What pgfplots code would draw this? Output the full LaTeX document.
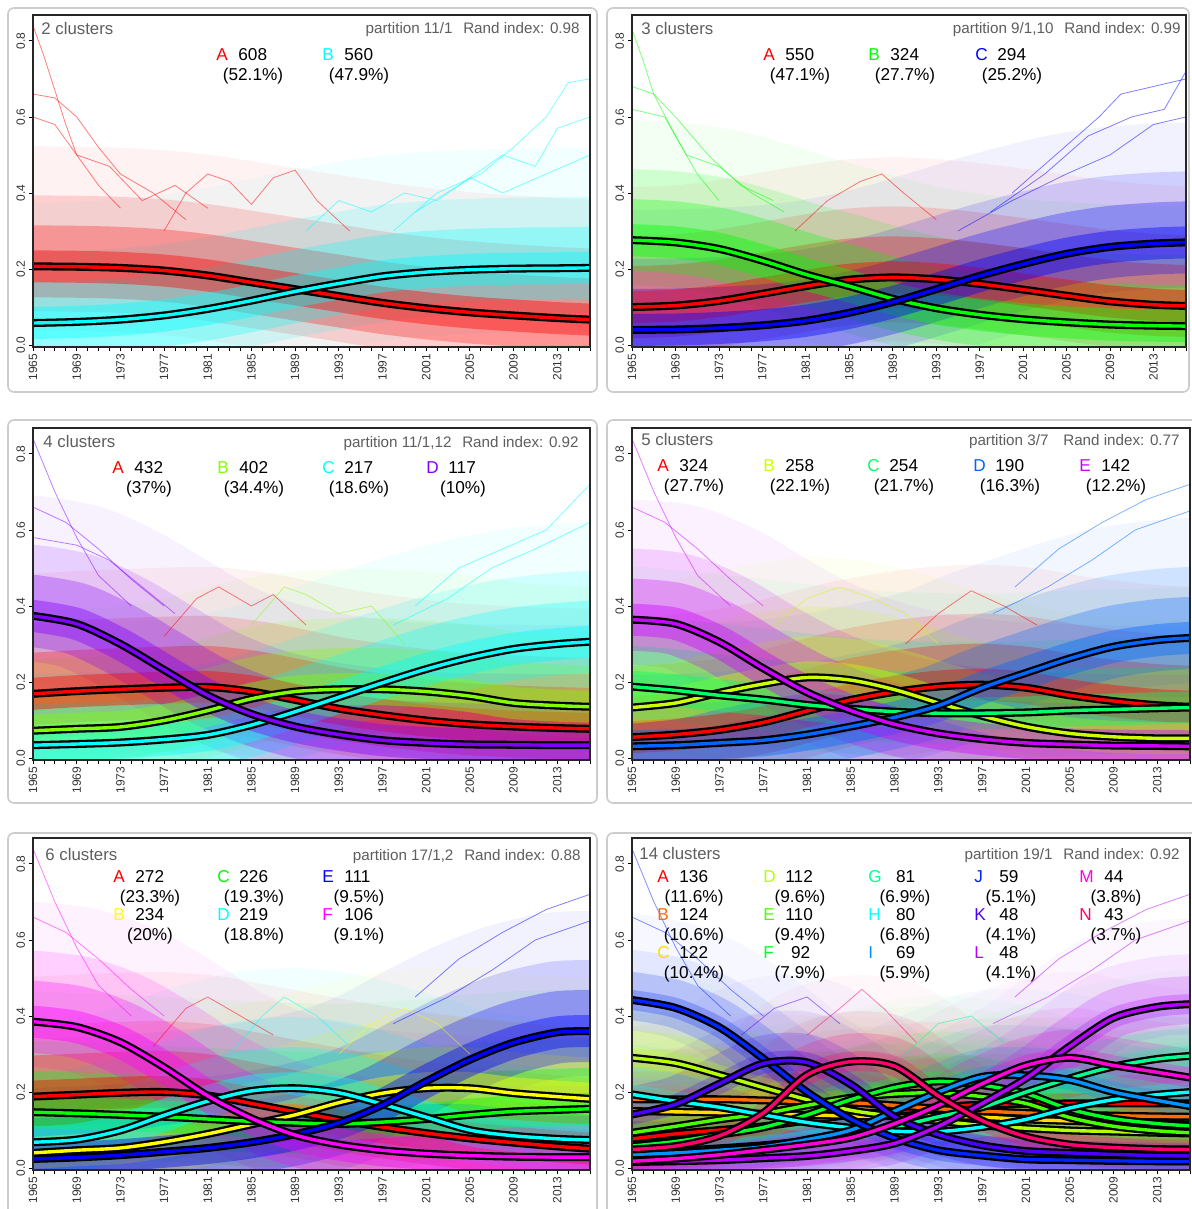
\documentclass[border=0pt]{standalone}
\usepackage{pgfplots}
\pgfplotsset{compat=1.18}
\usepackage{pgfplotstable}
\usepackage{fontspec}
\setmainfont{Liberation Sans}

% rainbow colours
\definecolor{cR}{HTML}{FF0000}
\definecolor{cC}{HTML}{00FFFF}
\definecolor{cG}{HTML}{00FF00}
\definecolor{cBl}{HTML}{0000FF}
\definecolor{cYG}{HTML}{80FF00}
\definecolor{cPu}{HTML}{8000FF}
\definecolor{fB}{HTML}{CCFF00}
\definecolor{fC}{HTML}{00FF66}
\definecolor{fD}{HTML}{0066FF}
\definecolor{fE}{HTML}{CC00FF}
\definecolor{cY}{HTML}{FFFF00}
\definecolor{cM}{HTML}{FF00FF}
\definecolor{kA}{HTML}{FF0000}
\definecolor{kB}{HTML}{FF6D00}
\definecolor{kC}{HTML}{FFDB00}
\definecolor{kD}{HTML}{B6FF00}
\definecolor{kE}{HTML}{49FF00}
\definecolor{kF}{HTML}{00FF24}
\definecolor{kG}{HTML}{00FF92}
\definecolor{kH}{HTML}{00FFFF}
\definecolor{kI}{HTML}{0092FF}
\definecolor{kJ}{HTML}{0024FF}
\definecolor{kK}{HTML}{4900FF}
\definecolor{kL}{HTML}{B600FF}
\definecolor{kM}{HTML}{FF00DB}
\definecolor{kN}{HTML}{FF006D}
\definecolor{txtgray}{HTML}{5E5E5E}

\pgfplotstableread{
year A B
1965 0.207 0.058
1969 0.206 0.061
1973 0.203 0.067
1977 0.196 0.078
1981 0.183 0.095
1985 0.165 0.117
1989 0.147 0.141
1993 0.129 0.162
1997 0.111 0.181
2001 0.097 0.192
2005 0.086 0.198
2009 0.078 0.201
2013 0.071 0.202
2016 0.067 0.203
}\tPone

\pgfplotstableread{
year A B C
1965 0.100 0.276 0.040
1969 0.104 0.270 0.041
1973 0.116 0.253 0.045
1977 0.135 0.222 0.052
1981 0.155 0.186 0.064
1985 0.172 0.155 0.085
1989 0.178 0.122 0.113
1993 0.173 0.097 0.147
1997 0.161 0.080 0.182
2001 0.146 0.068 0.213
2005 0.130 0.060 0.240
2009 0.115 0.054 0.258
2013 0.106 0.051 0.267
2016 0.103 0.050 0.270
}\tPtwo

\pgfplotstableread{
year A B C D
1965 0.169 0.072 0.034 0.374
1969 0.176 0.077 0.037 0.353
1973 0.181 0.082 0.041 0.300
1977 0.185 0.099 0.049 0.232
1981 0.187 0.125 0.061 0.165
1985 0.175 0.156 0.087 0.116
1989 0.153 0.175 0.122 0.083
1993 0.130 0.181 0.160 0.062
1997 0.113 0.181 0.198 0.047
2001 0.099 0.175 0.234 0.040
2005 0.089 0.163 0.264 0.036
2009 0.083 0.145 0.287 0.035
2013 0.079 0.138 0.300 0.034
2016 0.077 0.135 0.306 0.034
}\tPthree

\pgfplotstableread{
year A B C D E
1965 0.055 0.133 0.188 0.031 0.364
1969 0.062 0.145 0.178 0.034 0.353
1973 0.074 0.172 0.165 0.040 0.305
1977 0.094 0.195 0.154 0.047 0.236
1981 0.124 0.212 0.140 0.062 0.173
1985 0.153 0.205 0.130 0.083 0.125
1989 0.174 0.180 0.122 0.107 0.089
1993 0.188 0.145 0.118 0.138 0.065
1997 0.193 0.111 0.118 0.185 0.050
2001 0.185 0.083 0.120 0.224 0.040
2005 0.165 0.065 0.125 0.262 0.036
2009 0.150 0.056 0.128 0.293 0.033
2013 0.139 0.052 0.131 0.310 0.032
2016 0.135 0.052 0.133 0.316 0.031
}\tPfour

\pgfplotstableread{
year A B C D E F
1965 0.188 0.040 0.147 0.068 0.024 0.385
1969 0.193 0.047 0.144 0.075 0.028 0.371
1973 0.198 0.053 0.140 0.099 0.034 0.331
1977 0.200 0.069 0.135 0.139 0.043 0.265
1981 0.191 0.090 0.129 0.176 0.053 0.190
1985 0.170 0.115 0.123 0.203 0.068 0.131
1989 0.148 0.140 0.119 0.210 0.089 0.087
1993 0.127 0.172 0.116 0.198 0.119 0.062
1997 0.108 0.197 0.121 0.168 0.166 0.047
2001 0.092 0.210 0.129 0.134 0.228 0.038
2005 0.078 0.210 0.140 0.100 0.285 0.033
2009 0.067 0.197 0.149 0.085 0.330 0.030
2013 0.057 0.188 0.153 0.077 0.357 0.029
2016 0.051 0.182 0.156 0.074 0.360 0.029
}\tPfive

\pgfplotstableread{
year A B C D E F G H I J K L M N
1965 0.077 0.181 0.150 0.290 0.093 0.058 0.040 0.194 0.036 0.442 0.141 0.016 0.018 0.049
1969 0.090 0.181 0.148 0.276 0.110 0.070 0.045 0.176 0.040 0.421 0.168 0.018 0.025 0.058
1973 0.100 0.181 0.146 0.245 0.128 0.088 0.052 0.160 0.047 0.370 0.222 0.021 0.035 0.085
1977 0.110 0.178 0.143 0.212 0.143 0.107 0.060 0.140 0.056 0.288 0.275 0.026 0.048 0.145
1981 0.125 0.175 0.140 0.180 0.165 0.140 0.072 0.120 0.075 0.200 0.278 0.032 0.062 0.245
1985 0.140 0.172 0.137 0.152 0.185 0.180 0.090 0.106 0.100 0.129 0.220 0.045 0.080 0.280
1989 0.150 0.165 0.137 0.136 0.195 0.212 0.108 0.097 0.150 0.079 0.135 0.065 0.117 0.268
1993 0.160 0.156 0.137 0.124 0.198 0.228 0.135 0.096 0.200 0.047 0.088 0.110 0.165 0.190
1997 0.167 0.150 0.134 0.112 0.188 0.218 0.160 0.108 0.240 0.033 0.060 0.170 0.222 0.125
2001 0.169 0.145 0.128 0.105 0.170 0.196 0.200 0.128 0.244 0.023 0.045 0.236 0.270 0.083
2005 0.170 0.141 0.124 0.099 0.133 0.155 0.236 0.158 0.232 0.021 0.040 0.320 0.290 0.062
2009 0.170 0.138 0.120 0.096 0.110 0.130 0.267 0.180 0.200 0.019 0.036 0.395 0.270 0.054
2013 0.170 0.136 0.117 0.093 0.098 0.117 0.287 0.193 0.178 0.018 0.033 0.424 0.252 0.050
2016 0.170 0.135 0.115 0.091 0.093 0.111 0.295 0.200 0.163 0.018 0.032 0.431 0.238 0.049
}\tPsix

\pgfplotsset{
  panel/.style={
    scale only axis, height=166pt,
    xmin=1965, xmax=2016, ymin=-0.005, ymax=0.868,
    xtick={1965,1969,...,2013}, minor xtick={1965,...,2016},
    ytick={0,0.2,0.4,0.6,0.8},
    tick align=outside, tick pos=left,
    major tick length=2pt, minor tick length=2pt,
    every tick/.style={black, line width=0.4pt},
    axis line style={black!85, line width=0.75pt},
    /pgf/number format/1000 sep={},
    /pgf/number format/assume math mode=true,
    xticklabel style={rotate=90, anchor=east, inner sep=1.2pt, font=\fontsize{6}{6}\selectfont, text=black!80},
    yticklabel style={rotate=90, anchor=south, inner sep=1.8pt, font=\fontsize{6}{6}\selectfont, text=black!80,
      /pgf/number format/fixed, /pgf/number format/fixed zerofill, /pgf/number format/precision=1},
    axis on top, clip=true,
  },
  meanK/.style={no markers, smooth, black, line width=4pt},
  meanC/.style={no markers, smooth, line width=1.7pt},
  thin/.style={no markers, line width=0.4pt, draw opacity=0.5},
}

\newcommand\fnum{\fontsize{8.6}{10}\selectfont}
\newcommand\ftit{\fontsize{8.4}{10}\selectfont}
\newcommand\fpart{\fontsize{7.6}{9}\selectfont}
\newcommand\clab[6]{%
  \node[anchor=base west, inner sep=0, text=#3, font=\fnum] at (#1,#2) {#4};
  \node[anchor=base west, inner sep=0, font=\fnum] at (#1+22,#2) {#5};
  \node[anchor=base, inner sep=0, font=\fnum] at (#1+37,#2+20) {#6};
}
\newcommand\ptitle[6]{%
  \node[anchor=base west, inner sep=0, text=txtgray, font=\ftit] at (#1,#2) {#3};
  \node[anchor=base east, inner sep=0, text=txtgray, font=\fpart] (rr) at (#4,#5) {Rand index: #6};
}

% mean curve: black underlay + coloured line
\newcommand\cluster[3]{%
  \addplot[meanK] table[x=year,y=#2]{#1};
  \addplot[meanC, #3] table[x=year,y=#2]{#1};
}
% one soft layer of the spread of a cluster's trajectories
\newcommand\lay[6]{%
  \addplot[no markers, smooth, line cap=round, line join=round, draw=#3,
     line width=#4, draw opacity=#5, yshift=#6] table[x=year,y=#2]{#1};
}
\newcommand\Lone[3]{\lay{\tPone}{A}{cR}{#1}{#2}{#3}\lay{\tPone}{B}{cC}{#1}{#2}{#3}}
\newcommand\Ltwo[3]{\lay{\tPtwo}{A}{cR}{#1}{#2}{#3}\lay{\tPtwo}{B}{cG}{#1}{#2}{#3}\lay{\tPtwo}{C}{cBl}{#1}{#2}{#3}}
\newcommand\Lthree[3]{\lay{\tPthree}{A}{cR}{#1}{#2}{#3}\lay{\tPthree}{B}{cYG}{#1}{#2}{#3}\lay{\tPthree}{C}{cC}{#1}{#2}{#3}\lay{\tPthree}{D}{cPu}{#1}{#2}{#3}}
\newcommand\Lfour[3]{\lay{\tPfour}{A}{cR}{#1}{#2}{#3}\lay{\tPfour}{B}{fB}{#1}{#2}{#3}\lay{\tPfour}{C}{fC}{#1}{#2}{#3}\lay{\tPfour}{D}{fD}{#1}{#2}{#3}\lay{\tPfour}{E}{fE}{#1}{#2}{#3}}
\newcommand\Lfive[3]{\lay{\tPfive}{A}{cR}{#1}{#2}{#3}\lay{\tPfive}{B}{cY}{#1}{#2}{#3}\lay{\tPfive}{C}{cG}{#1}{#2}{#3}\lay{\tPfive}{D}{cC}{#1}{#2}{#3}\lay{\tPfive}{E}{cBl}{#1}{#2}{#3}\lay{\tPfive}{F}{cM}{#1}{#2}{#3}}
\newcommand\Lsix[3]{%
  \lay{\tPsix}{A}{kA}{#1}{#2}{#3}\lay{\tPsix}{B}{kB}{#1}{#2}{#3}\lay{\tPsix}{C}{kC}{#1}{#2}{#3}%
  \lay{\tPsix}{D}{kD}{#1}{#2}{#3}\lay{\tPsix}{E}{kE}{#1}{#2}{#3}\lay{\tPsix}{F}{kF}{#1}{#2}{#3}%
  \lay{\tPsix}{G}{kG}{#1}{#2}{#3}\lay{\tPsix}{H}{kH}{#1}{#2}{#3}\lay{\tPsix}{I}{kI}{#1}{#2}{#3}%
  \lay{\tPsix}{J}{kJ}{#1}{#2}{#3}\lay{\tPsix}{K}{kK}{#1}{#2}{#3}\lay{\tPsix}{L}{kL}{#1}{#2}{#3}%
  \lay{\tPsix}{M}{kM}{#1}{#2}{#3}\lay{\tPsix}{N}{kN}{#1}{#2}{#3}}
\newcommand\softbands[1]{%
  #1{92pt}{0.05}{14pt}#1{58pt}{0.14}{6.5pt}#1{36pt}{0.28}{2.5pt}#1{16pt}{0.40}{0pt}}

\begin{document}
\begin{tikzpicture}
\fill[white] (0,0) rectangle (596pt,-604.5pt);
\path[use as bounding box] (0,0) rectangle (596pt,-604.5pt);
\begin{scope}[x=0.5pt,y=-0.5pt]
\foreach \a/\b/\c/\d in {8/8/597/392, 607/8/1189/392, 8/420/597/803, 607/420/1205/803, 8/833/597/1225, 607/833/1205/1225}
  \draw[black!20, line width=0.8pt, rounded corners=3pt] (\a,\b) rectangle (\c,\d);
\end{scope}

% ---------- panel 1 ----------
\begin{axis}[panel, at={(16.5pt,-173.5pt)}, anchor=south west, width=278.5pt]
\softbands\Lone
\addplot[thin, cR] coordinates {(1965,0.84)(1966,0.76)(1967,0.67)(1968,0.58)(1969,0.5)(1971,0.42)(1973,0.36)};
\addplot[thin, cR] coordinates {(1965,0.66)(1967,0.65)(1969,0.6)(1971,0.52)(1973,0.45)(1976,0.4)(1979,0.33)};
\addplot[thin, cR] coordinates {(1965,0.6)(1967,0.58)(1969,0.5)(1972,0.47)(1975,0.38)(1978,0.42)(1981,0.36)};
\addplot[thin, cR] coordinates {(1977,0.3)(1979,0.4)(1981,0.45)(1983,0.43)(1985,0.37)(1987,0.44)(1989,0.46)(1991,0.38)(1994,0.3)};
\addplot[thin, cC] coordinates {(1998,0.3)(2002,0.4)(2006,0.45)(2009,0.52)(2012,0.6)(2014,0.69)(2016,0.7)};
\addplot[thin, cC] coordinates {(2000,0.35)(2004,0.42)(2008,0.5)(2011,0.47)(2013,0.57)(2016,0.6)};
\addplot[thin, cC] coordinates {(1990,0.3)(1993,0.38)(1996,0.35)(1999,0.4)(2002,0.38)(2005,0.44)(2008,0.4)(2012,0.45)(2016,0.5)};
\cluster{\tPone}{A}{cR}\cluster{\tPone}{B}{cC}
\end{axis}

% ---------- panel 2 ----------
\begin{axis}[panel, at={(316pt,-173.5pt)}, anchor=south west, width=277pt]
\softbands\Ltwo
\addplot[thin, cG] coordinates {(1965,0.83)(1966,0.75)(1967,0.66)(1969,0.55)(1971,0.45)(1973,0.38)};
\addplot[thin, cG] coordinates {(1965,0.68)(1967,0.66)(1969,0.6)(1972,0.5)(1975,0.42)(1978,0.38)};
\addplot[thin, cG] coordinates {(1965,0.62)(1968,0.6)(1970,0.5)(1973,0.47)(1976,0.4)(1979,0.35)};
\addplot[thin, cR] coordinates {(1980,0.3)(1983,0.38)(1986,0.43)(1988,0.45)(1990,0.4)(1993,0.33)};
\addplot[thin, cBl] coordinates {(2000,0.4)(2004,0.5)(2008,0.6)(2010,0.66)(2013,0.68)(2016,0.7)};
\addplot[thin, cBl] coordinates {(1998,0.35)(2003,0.45)(2007,0.55)(2011,0.6)(2014,0.62)(2016,0.72)};
\addplot[thin, cBl] coordinates {(1995,0.3)(2000,0.38)(2005,0.45)(2009,0.5)(2013,0.58)(2016,0.6)};
\cluster{\tPtwo}{A}{cR}\cluster{\tPtwo}{B}{cG}\cluster{\tPtwo}{C}{cBl}
\end{axis}

% ---------- panel 3 ----------
\begin{axis}[panel, at={(16.5pt,-380pt)}, anchor=south west, width=278.5pt]
\softbands\Lthree
\addplot[thin, cPu] coordinates {(1965,0.84)(1967,0.7)(1969,0.58)(1971,0.48)(1974,0.4)};
\addplot[thin, cPu] coordinates {(1965,0.66)(1968,0.62)(1971,0.55)(1974,0.47)(1977,0.4)};
\addplot[thin, cPu] coordinates {(1965,0.58)(1969,0.56)(1972,0.52)(1975,0.45)(1978,0.38)};
\addplot[thin, cR] coordinates {(1977,0.32)(1980,0.42)(1982,0.45)(1985,0.4)(1987,0.43)(1990,0.35)};
\addplot[thin, cYG] coordinates {(1985,0.35)(1988,0.45)(1990,0.43)(1993,0.38)(1996,0.4)(1999,0.3)};
\addplot[thin, cC] coordinates {(2000,0.4)(2004,0.5)(2008,0.55)(2012,0.6)(2016,0.72)};
\addplot[thin, cC] coordinates {(1998,0.35)(2003,0.42)(2007,0.5)(2011,0.55)(2016,0.62)};
\cluster{\tPthree}{A}{cR}\cluster{\tPthree}{B}{cYG}\cluster{\tPthree}{C}{cC}\cluster{\tPthree}{D}{cPu}
\end{axis}

% ---------- panel 4 ----------
\begin{axis}[panel, at={(316pt,-380pt)}, anchor=south west, width=279pt]
\softbands\Lfour
\addplot[thin, fE] coordinates {(1965,0.84)(1967,0.7)(1969,0.58)(1971,0.48)(1974,0.4)};
\addplot[thin, fE] coordinates {(1965,0.66)(1968,0.62)(1971,0.55)(1974,0.47)(1977,0.4)};
\addplot[thin, fB] coordinates {(1978,0.35)(1981,0.42)(1984,0.45)(1987,0.42)(1990,0.38)(1993,0.3)};
\addplot[thin, cR] coordinates {(1990,0.3)(1993,0.38)(1996,0.44)(1999,0.4)(2002,0.35)};
\addplot[thin, fD] coordinates {(2000,0.45)(2004,0.55)(2008,0.62)(2012,0.68)(2016,0.72)};
\addplot[thin, fD] coordinates {(1998,0.38)(2003,0.45)(2007,0.52)(2011,0.6)(2016,0.65)};
\cluster{\tPfour}{A}{cR}\cluster{\tPfour}{B}{fB}\cluster{\tPfour}{C}{fC}\cluster{\tPfour}{D}{fD}\cluster{\tPfour}{E}{fE}
\end{axis}

% ---------- panel 5 ----------
\begin{axis}[panel, at={(16.5pt,-585pt)}, anchor=south west, width=278.5pt]
\softbands\Lfive
\addplot[thin, cM] coordinates {(1965,0.84)(1967,0.7)(1969,0.58)(1971,0.48)(1974,0.4)};
\addplot[thin, cM] coordinates {(1965,0.66)(1968,0.62)(1971,0.55)(1974,0.47)(1977,0.4)};
\addplot[thin, cR] coordinates {(1976,0.32)(1979,0.42)(1981,0.45)(1984,0.4)(1987,0.35)};
\addplot[thin, cC] coordinates {(1983,0.3)(1986,0.4)(1988,0.45)(1991,0.4)(1994,0.32)};
\addplot[thin, cY] coordinates {(1993,0.3)(1996,0.38)(1999,0.42)(2002,0.38)(2005,0.3)};
\addplot[thin, cBl] coordinates {(2000,0.45)(2004,0.55)(2008,0.62)(2012,0.68)(2016,0.72)};
\addplot[thin, cBl] coordinates {(1998,0.38)(2003,0.45)(2007,0.52)(2011,0.6)(2016,0.65)};
\cluster{\tPfive}{A}{cR}\cluster{\tPfive}{B}{cY}\cluster{\tPfive}{C}{cG}\cluster{\tPfive}{D}{cC}\cluster{\tPfive}{E}{cBl}\cluster{\tPfive}{F}{cM}
\end{axis}

% ---------- panel 6 ----------
\begin{axis}[panel, at={(316pt,-585pt)}, anchor=south west, width=279pt]
\Lsix{66pt}{0.03}{10pt}\Lsix{40pt}{0.08}{5pt}\Lsix{24pt}{0.18}{2pt}\Lsix{10pt}{0.25}{0pt}
\addplot[thin, kJ] coordinates {(1965,0.84)(1967,0.7)(1969,0.58)(1971,0.48)(1974,0.4)};
\addplot[thin, kJ] coordinates {(1965,0.66)(1968,0.62)(1971,0.55)(1974,0.47)(1977,0.4)};
\addplot[thin, kK] coordinates {(1975,0.35)(1978,0.42)(1981,0.45)(1984,0.38)};
\addplot[thin, kN] coordinates {(1981,0.35)(1984,0.42)(1986,0.47)(1988,0.42)(1991,0.33)};
\addplot[thin, kG] coordinates {(1990,0.3)(1993,0.38)(1996,0.4)(1999,0.33)};
\addplot[thin, kL] coordinates {(2000,0.45)(2004,0.55)(2008,0.62)(2012,0.68)(2016,0.72)};
\addplot[thin, kL] coordinates {(1998,0.38)(2003,0.45)(2007,0.52)(2011,0.6)(2016,0.65)};
\cluster{\tPsix}{A}{kA}\cluster{\tPsix}{B}{kB}\cluster{\tPsix}{C}{kC}\cluster{\tPsix}{D}{kD}
\cluster{\tPsix}{E}{kE}\cluster{\tPsix}{F}{kF}\cluster{\tPsix}{G}{kG}\cluster{\tPsix}{H}{kH}
\cluster{\tPsix}{I}{kI}\cluster{\tPsix}{J}{kJ}\cluster{\tPsix}{K}{kK}\cluster{\tPsix}{L}{kL}
\cluster{\tPsix}{M}{kM}\cluster{\tPsix}{N}{kN}
\end{axis}

% ---------- texts ----------
\begin{scope}[x=0.5pt,y=-0.5pt]
\ptitle{41}{35}{2 clusters}{580}{34}{0.98}
\node[anchor=base east, inner sep=0, text=txtgray, font=\fpart] at ([xshift=-5pt]rr.base west) {partition 11/1};
\clab{216}{61}{cR}{A}{608}{(52.1\%)}
\clab{322}{61}{cC}{B}{560}{(47.9\%)}

\ptitle{641}{35}{3 clusters}{1181}{34}{0.99}
\node[anchor=base east, inner sep=0, text=txtgray, font=\fpart] at ([xshift=-5pt]rr.base west) {partition 9/1,10};
\clab{763}{61}{cR}{A}{550}{(47.1\%)}
\clab{868}{61}{cG}{B}{324}{(27.7\%)}
\clab{975}{61}{cBl}{C}{294}{(25.2\%)}

\ptitle{43}{447}{4 clusters}{579}{447}{0.92}
\node[anchor=base east, inner sep=0, text=txtgray, font=\fpart] at ([xshift=-5pt]rr.base west) {partition 11/1,12};
\clab{112}{473}{cR}{A}{432}{(37\%)}
\clab{217}{473}{cYG}{B}{402}{(34.4\%)}
\clab{322}{473}{cC}{C}{217}{(18.6\%)}
\clab{426}{473}{cPu}{D}{117}{(10\%)}

\ptitle{641}{445}{5 clusters}{1180}{445}{0.77}
\node[anchor=base east, inner sep=0, text=txtgray, font=\fpart] at ([xshift=-7pt]rr.base west) {partition 3/7};
\clab{657}{471}{cR}{A}{324}{(27.7\%)}
\clab{763}{471}{fB}{B}{258}{(22.1\%)}
\clab{867}{471}{fC}{C}{254}{(21.7\%)}
\clab{973}{471}{fD}{D}{190}{(16.3\%)}
\clab{1079}{471}{fE}{E}{142}{(12.2\%)}

\ptitle{45}{860}{6 clusters}{581}{860}{0.88}
\node[anchor=base east, inner sep=0, text=txtgray, font=\fpart] at ([xshift=-5pt]rr.base west) {partition 17/1,2};
\clab{113}{882}{cR}{A}{272}{(23.3\%)}
\clab{113}{920}{cY}{B}{234}{(20\%)}
\clab{217}{882}{cG}{C}{226}{(19.3\%)}
\clab{217}{920}{cC}{D}{219}{(18.8\%)}
\clab{322}{882}{cBl}{E}{111}{(9.5\%)}
\clab{322}{920}{cM}{F}{106}{(9.1\%)}

\ptitle{639}{859}{14 clusters}{1180}{859}{0.92}
\node[anchor=base east, inner sep=0, text=txtgray, font=\fpart] at ([xshift=-5pt]rr.base west) {partition 19/1};
\clab{657}{882}{kA}{A}{136}{(11.6\%)}
\clab{657}{920}{kB}{B}{124}{(10.6\%)}
\clab{657}{958}{kC}{C}{122}{(10.4\%)}
\clab{763}{882}{kD}{D}{112}{(9.6\%)}
\clab{763}{920}{kE}{E}{110}{(9.4\%)}
\clab{763}{958}{kF}{F}{\,\,92}{(7.9\%)}
\clab{868}{882}{kG}{G}{\,\,81}{(6.9\%)}
\clab{868}{920}{kH}{H}{\,\,80}{(6.8\%)}
\clab{868}{958}{kI}{I}{\,\,69}{(5.9\%)}
\clab{974}{882}{kJ}{J}{\,59}{(5.1\%)}
\clab{974}{920}{kK}{K}{\,48}{(4.1\%)}
\clab{974}{958}{kL}{L}{\,48}{(4.1\%)}
\clab{1079}{882}{kM}{M}{\,44}{(3.8\%)}
\clab{1079}{920}{kN}{N}{\,43}{(3.7\%)}
\end{scope}
\end{tikzpicture}
\end{document}
